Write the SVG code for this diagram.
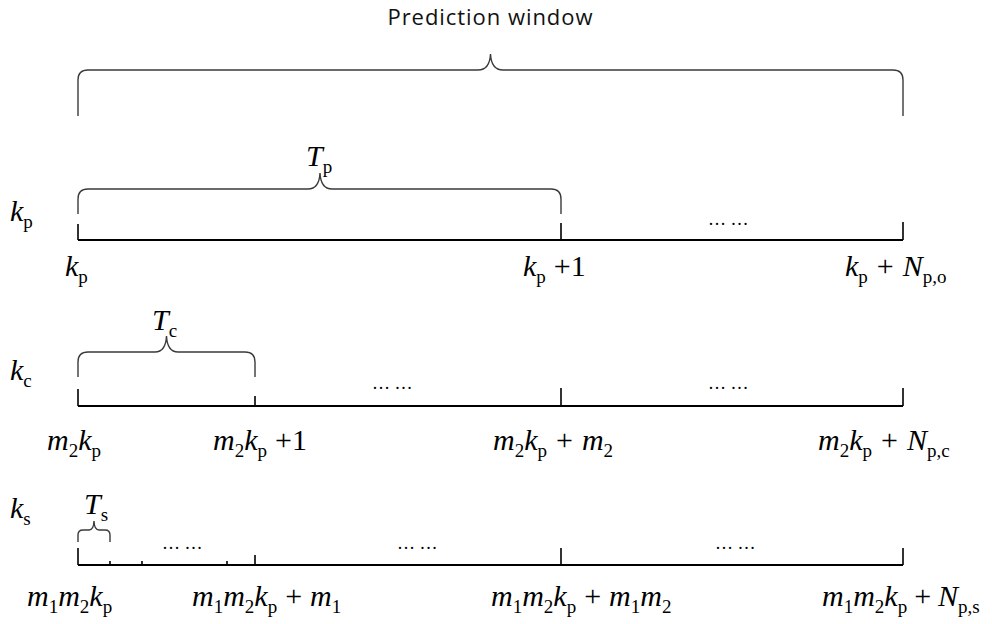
<svg xmlns="http://www.w3.org/2000/svg" width="992" height="624" viewBox="0 0 992 624">
<style>
.bg{fill:#ffffff}
.axis{stroke:#000;stroke-width:1.8;fill:none}
.tick{stroke:#000;stroke-width:1.6;fill:none}
.brace{stroke:#3a3a3a;stroke-width:1.4;fill:none}
.title{font-family:"Open Sans","Liberation Sans",sans-serif;font-size:22px;fill:#111;text-anchor:middle}
.lbl{font-family:"Liberation Serif","Times New Roman",serif;font-size:30px;fill:#000}
.i{font-style:italic}
.sb{font-size:19px;font-style:normal}
.dots{font-family:"Liberation Serif","Times New Roman",serif;font-size:18px;fill:#000}
</style>
<rect class="bg" x="0" y="0" width="992" height="624"/>

<g id="title">
<text class="title" x="490" y="25" textLength="205">Prediction window</text>
</g>

<g id="connectors">
<!-- top brace -->
<path class="brace" d="M78,116 V80 Q78,70 88,70 H478 C486,70 490,64 490.5,54 C491,64 495,70 503,70 H893 Q903,70 903,80 V116"/>
<!-- row 1 -->
<path class="brace" d="M78,214 V199 Q78,189 88,189 H308 C316,189 319.5,183 320,173 C320.5,183 324,189 332,189 H551 Q561,189 561,199 V214"/>
<path class="axis" d="M78,240 H903"/>
<path class="tick" d="M78,224 V240 M561,223 V240 M903,222 V240"/>
<!-- row 2 -->
<path class="brace" d="M78,377 V362 Q78,352 88,352 H155 C162,352 166,346 166.5,336 C167,346 171,352 178,352 H245 Q255,352 255,362 V377"/>
<path class="axis" d="M78,406 H903"/>
<path class="tick" d="M78,389 V406 M255,396 V406 M561,388 V406 M903,388 V406"/>
<!-- row 3 -->
<path class="brace" d="M78,542 V535 Q78,530 83,530 H89 C92,530 93.8,527 94,521 C94.2,527 96,530 99,530 H105 Q110,530 110,535 V542"/>
<path class="axis" d="M78,565 H903"/>
<path class="tick" d="M78,548 V565 M110,561 V565 M142,561 V565 M227,561 V565 M255,555 V565 M561,548 V565 M903,548 V565"/>
</g>

<g id="row1">
<text class="lbl" x="10" y="221"><tspan class="i">k</tspan><tspan class="sb" dy="7">p</tspan></text>
<text class="lbl" x="306" y="166"><tspan class="i">T</tspan><tspan class="sb" dy="7">p</tspan></text>
<text class="lbl" x="65" y="276"><tspan class="i">k</tspan><tspan class="sb" dy="7">p</tspan></text>
<text class="lbl" x="523" y="276"><tspan class="i">k</tspan><tspan class="sb" dy="7">p</tspan><tspan dx="8" dy="-7">+1</tspan></text>
<text class="lbl" x="845" y="276"><tspan class="i">k</tspan><tspan class="sb" dy="7">p</tspan><tspan dx="9" dy="-7">+</tspan><tspan class="i" dx="9">N</tspan><tspan class="sb" dy="7">p,o</tspan></text>
<text class="dots" x="708" y="225">… …</text>
</g>

<g id="row2">
<text class="lbl" x="10" y="380"><tspan class="i">k</tspan><tspan class="sb" dy="7">c</tspan></text>
<text class="lbl" x="152" y="330"><tspan class="i">T</tspan><tspan class="sb" dy="7">c</tspan></text>
<text class="lbl" x="47" y="450"><tspan class="i">m</tspan><tspan class="sb" dy="7">2</tspan><tspan class="i" dy="-7">k</tspan><tspan class="sb" dy="7">p</tspan></text>
<text class="lbl" x="213" y="450"><tspan class="i">m</tspan><tspan class="sb" dy="7">2</tspan><tspan class="i" dy="-7">k</tspan><tspan class="sb" dy="7">p</tspan><tspan dx="8" dy="-7">+1</tspan></text>
<text class="lbl" x="493" y="450"><tspan class="i">m</tspan><tspan class="sb" dy="7">2</tspan><tspan class="i" dy="-7">k</tspan><tspan class="sb" dy="7">p</tspan><tspan dx="9" dy="-7">+</tspan><tspan class="i" dx="9">m</tspan><tspan class="sb" dy="7">2</tspan></text>
<text class="lbl" x="818" y="450"><tspan class="i">m</tspan><tspan class="sb" dy="7">2</tspan><tspan class="i" dy="-7">k</tspan><tspan class="sb" dy="7">p</tspan><tspan dx="9" dy="-7">+</tspan><tspan class="i" dx="9">N</tspan><tspan class="sb" dy="7">p,c</tspan></text>
<text class="dots" x="372" y="389">… …</text>
<text class="dots" x="708" y="389">… …</text>
</g>

<g id="row3">
<text class="lbl" x="10" y="518"><tspan class="i">k</tspan><tspan class="sb" dy="7">s</tspan></text>
<text class="lbl" x="84" y="514"><tspan class="i">T</tspan><tspan class="sb" dy="7">s</tspan></text>
<text class="lbl" x="27" y="606"><tspan class="i">m</tspan><tspan class="sb" dy="7">1</tspan><tspan class="i" dy="-7">m</tspan><tspan class="sb" dy="7">2</tspan><tspan class="i" dy="-7">k</tspan><tspan class="sb" dy="7">p</tspan></text>
<text class="lbl" x="192" y="606"><tspan class="i">m</tspan><tspan class="sb" dy="7">1</tspan><tspan class="i" dy="-7">m</tspan><tspan class="sb" dy="7">2</tspan><tspan class="i" dy="-7">k</tspan><tspan class="sb" dy="7">p</tspan><tspan dx="8" dy="-7">+</tspan><tspan class="i" dx="8">m</tspan><tspan class="sb" dy="7">1</tspan></text>
<text class="lbl" x="491" y="606"><tspan class="i">m</tspan><tspan class="sb" dy="7">1</tspan><tspan class="i" dy="-7">m</tspan><tspan class="sb" dy="7">2</tspan><tspan class="i" dy="-7">k</tspan><tspan class="sb" dy="7">p</tspan><tspan dx="8" dy="-7">+</tspan><tspan class="i" dx="8">m</tspan><tspan class="sb" dy="7">1</tspan><tspan class="i" dy="-7">m</tspan><tspan class="sb" dy="7">2</tspan></text>
<text class="lbl" x="822" y="606"><tspan class="i">m</tspan><tspan class="sb" dy="7">1</tspan><tspan class="i" dy="-7">m</tspan><tspan class="sb" dy="7">2</tspan><tspan class="i" dy="-7">k</tspan><tspan class="sb" dy="7">p</tspan><tspan dx="7" dy="-7">+</tspan><tspan class="i" dx="7">N</tspan><tspan class="sb" dy="7">p,s</tspan></text>
<text class="dots" x="162" y="549">… …</text>
<text class="dots" x="397" y="549">… …</text>
<text class="dots" x="715" y="549">… …</text>
</g>
</svg>
